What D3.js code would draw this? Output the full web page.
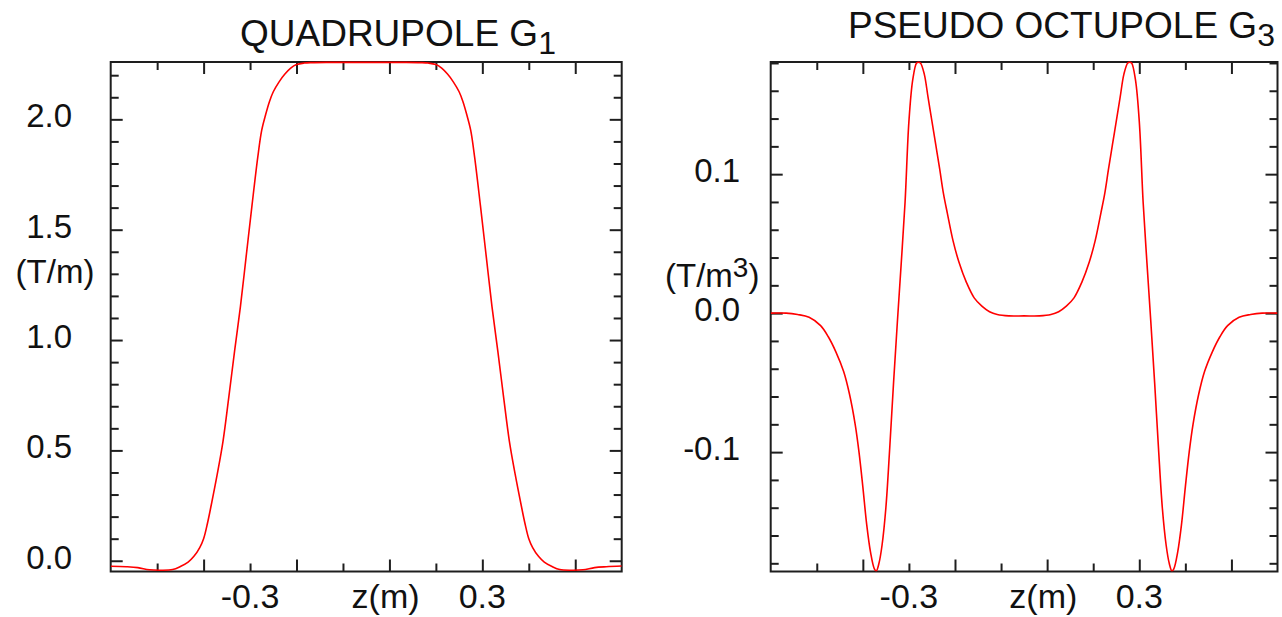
<!DOCTYPE html>
<html>
<head>
<meta charset="utf-8">
<script src="https://cdn.jsdelivr.net/npm/d3@7"></script>
<style>
  html, body { margin: 0; padding: 0; background: #fff; }
  svg { display: block; }
  text { font-family: "Liberation Sans", Arial, Helvetica, sans-serif; fill: #111; }
</style>
</head>
<body>
<svg id="chart" width="1282" height="617"></svg>
<script>
// ---------------- data ----------------
const zG1 = [-0.66, -0.62, -0.59, -0.56, -0.53, -0.50, -0.48, -0.46, -0.445, -0.43, -0.42, -0.41, -0.40, -0.385, -0.37, -0.355, -0.34, -0.325, -0.31, -0.295, -0.28, -0.27, -0.26, -0.25, -0.24, -0.225, -0.21, -0.195, -0.18, -0.16, -0.14, -0.10, -0.05, 0.0,
             0.05, 0.10, 0.14, 0.16, 0.18, 0.195, 0.21, 0.225, 0.24, 0.25, 0.26, 0.27, 0.28, 0.295, 0.31, 0.325, 0.34, 0.355, 0.37, 0.385, 0.40, 0.41, 0.42, 0.43, 0.445, 0.46, 0.48, 0.50, 0.53, 0.56, 0.59, 0.62, 0.66];
const g1 = [-0.025, -0.027, -0.031, -0.041, -0.043, -0.040, -0.026, -0.006, 0.020, 0.060, 0.100, 0.170, 0.255, 0.390, 0.540, 0.740, 0.950, 1.150, 1.380, 1.610, 1.830, 1.950, 2.020, 2.080, 2.125, 2.170, 2.205, 2.232, 2.248, 2.255, 2.257, 2.258, 2.258, 2.258,
            2.258, 2.258, 2.257, 2.255, 2.248, 2.232, 2.205, 2.170, 2.125, 2.080, 2.020, 1.950, 1.830, 1.610, 1.380, 1.150, 0.950, 0.740, 0.540, 0.390, 0.255, 0.170, 0.100, 0.060, 0.020, -0.006, -0.026, -0.040, -0.043, -0.041, -0.031, -0.027, -0.024];

const zG3 = [-0.66, -0.62, -0.59, -0.56, -0.53, -0.51, -0.49, -0.47, -0.455, -0.44, -0.43, -0.42, -0.41, -0.40, -0.39, -0.385, -0.378, -0.37, -0.36, -0.35, -0.34, -0.33, -0.32, -0.31, -0.30, -0.29, -0.28, -0.275, -0.27, -0.26, -0.25, -0.24, -0.23, -0.22, -0.21, -0.20, -0.185, -0.17, -0.15, -0.13, -0.11, -0.09, -0.07, -0.04, 0.0,
             0.04, 0.07, 0.09, 0.11, 0.13, 0.15, 0.17, 0.185, 0.20, 0.21, 0.22, 0.23, 0.24, 0.25, 0.26, 0.27, 0.275, 0.28, 0.29, 0.30, 0.31, 0.32, 0.33, 0.34, 0.35, 0.36, 0.37, 0.378, 0.385, 0.39, 0.40, 0.41, 0.42, 0.43, 0.44, 0.455, 0.47, 0.49, 0.51, 0.53, 0.56, 0.59, 0.62, 0.66];
const g3 = [0.000, 0.000, -0.001, -0.003, -0.009, -0.017, -0.028, -0.042, -0.058, -0.080, -0.100, -0.125, -0.152, -0.172, -0.184, -0.1855, -0.180, -0.167, -0.140, -0.097, -0.050, -0.006, 0.036, 0.080, 0.138, 0.168, 0.180, 0.1805, 0.180, 0.172, 0.155, 0.138, 0.121, 0.104, 0.086, 0.072, 0.052, 0.037, 0.022, 0.011, 0.005, 0.001, -0.001, -0.002, -0.002,
            -0.002, -0.001, 0.001, 0.005, 0.011, 0.022, 0.037, 0.052, 0.072, 0.086, 0.104, 0.121, 0.138, 0.155, 0.172, 0.180, 0.1805, 0.180, 0.168, 0.138, 0.080, 0.036, -0.006, -0.050, -0.097, -0.140, -0.167, -0.180, -0.1855, -0.184, -0.172, -0.152, -0.125, -0.100, -0.080, -0.058, -0.042, -0.028, -0.017, -0.009, -0.003, -0.001, 0.000, 0.000];

const xLabelValues = [-0.3, 0.3];
const xLabels = ["-0.3", "0.3"];
const xAxisTitle = "z(m)";
const yLabelValuesG1 = [0.0, 0.5, 1.0, 1.5, 2.0];
const yLabelsG1 = ["0.0", "0.5", "1.0", "1.5", "2.0"];
const yLabelValuesG3 = [-0.1, 0.0, 0.1];
const yLabelsG3 = ["-0.1", "0.0", "0.1"];
const titles = ["QUADRUPOLE G", "PSEUDO OCTUPOLE G"];
const titleSubs = ["1", "3"];

// ---------------- layout ----------------
const svg = d3.select("#chart");
const FRAME = "#1e1e1e";

const panels = [
  { x0: 110.7, x1: 621.7, y0: 62, y1: 571.5, yDomain: [-0.0487, 2.2598], z: zG1, v: g1,
    yMinorStep: 0.1, yMajorStep: 0.5, yLo: 0, yHi: 2.2,
    yLabelVals: yLabelValuesG1, yLabels: yLabelsG1, yLabelX: 72,
    titleX: 240, titleY: 46, title: titles[0], sub: titleSubs[0], id: "L" },
  { x0: 770.7, x1: 1277.5, y0: 62, y1: 571.5, yDomain: [-0.1859, 0.1807], z: zG3, v: g3,
    yMinorStep: 0.02, yMajorStep: 0.1, yLo: -0.18, yHi: 0.18,
    yLabelVals: yLabelValuesG3, yLabels: yLabelsG3, yLabelX: 740,
    titleX: 848, titleY: 38, title: titles[1], sub: titleSubs[1], id: "R" }
];

const xMinorTicks = d3.range(0, 5).map(i => +(-0.54 + 0.24 * i).toFixed(3));
const xMajorTicks = d3.range(0, 5).map(i => +(-0.42 + 0.24 * i).toFixed(3));

panels.forEach(p => {
  const x = d3.scaleLinear().domain([-0.66, 0.66]).range([p.x0, p.x1]);
  const y = d3.scaleLinear().domain(p.yDomain).range([p.y1, p.y0]);
  const g = svg.append("g");

  const nY = Math.round((p.yHi - p.yLo) / p.yMinorStep);
  const yAll = d3.range(0, nY + 1).map(i => +(p.yLo + i * p.yMinorStep).toFixed(4));
  const isMajor = v => Math.abs(v / p.yMajorStep - Math.round(v / p.yMajorStep)) < 1e-6;
  const yMajor = yAll.filter(isMajor);
  const yMinor = yAll.filter(v => !isMajor(v));

  const styleAxis = sel => {
    sel.select(".domain").remove();
    sel.selectAll(".tick line").attr("stroke", FRAME).attr("stroke-width", 2);
    sel.selectAll(".tick text").remove();
  };
  // bottom & top x ticks (inward)
  [[xMinorTicks, 8], [xMajorTicks, 12]].forEach(([vals, len]) => {
    g.append("g").attr("transform", `translate(0,${p.y1})`)
      .call(d3.axisBottom(x).tickValues(vals).tickSize(-len).tickFormat("")).call(styleAxis);
    g.append("g").attr("transform", `translate(0,${p.y0})`)
      .call(d3.axisTop(x).tickValues(vals).tickSize(-len).tickFormat("")).call(styleAxis);
  });
  // left & right y ticks (inward)
  [[yMinor, 8], [yMajor, 12]].forEach(([vals, len]) => {
    g.append("g").attr("transform", `translate(${p.x0},0)`)
      .call(d3.axisLeft(y).tickValues(vals).tickSize(-len).tickFormat("")).call(styleAxis);
    g.append("g").attr("transform", `translate(${p.x1},0)`)
      .call(d3.axisRight(y).tickValues(vals).tickSize(-len).tickFormat("")).call(styleAxis);
  });

  // frame
  g.append("rect").attr("x", p.x0).attr("y", p.y0)
    .attr("width", p.x1 - p.x0).attr("height", p.y1 - p.y0)
    .attr("fill", "none").attr("stroke", FRAME).attr("stroke-width", 2);

  // clip + curve
  svg.append("clipPath").attr("id", "clip" + p.id)
    .append("rect").attr("x", p.x0).attr("y", p.y0 - 1)
    .attr("width", p.x1 - p.x0).attr("height", p.y1 - p.y0 + 1);
  const pts = p.z.map((zz, i) => [zz, p.v[i]]);
  g.append("path").datum(pts)
    .attr("clip-path", `url(#clip${p.id})`)
    .attr("fill", "none").attr("stroke", "#ff0000").attr("stroke-width", 1.6)
    .attr("d", d3.line().x(d => x(d[0])).y(d => y(d[1])).curve(d3.curveCatmullRom.alpha(0.5)));

  // y labels
  g.selectAll(".ylab").data(p.yLabelVals).enter().append("text")
    .attr("x", p.yLabelX).attr("y", d => y(d) + 8)
    .attr("text-anchor", "end").attr("font-size", 33)
    .text((d, i) => p.yLabels[i]);

  // x labels
  g.selectAll(".xlab").data(xLabelValues).enter().append("text")
    .attr("x", d => x(d)).attr("y", 608)
    .attr("text-anchor", "middle").attr("font-size", 34)
    .text((d, i) => xLabels[i]);
  g.append("text").attr("x", x(0.05)).attr("y", 608)
    .attr("text-anchor", "middle").attr("font-size", 34).text(xAxisTitle);

  // title
  const t = g.append("text").attr("x", p.titleX).attr("y", p.titleY).attr("font-size", 37);
  t.append("tspan").text(p.title);
  t.append("tspan").attr("font-size", 32).attr("dy", 8).text(p.sub);
});

// unit labels
svg.append("text").attr("x", 55).attr("y", 283).attr("text-anchor", "middle")
  .attr("font-size", 33).text("(T/m)");
const u = svg.append("text").attr("x", 665).attr("y", 287).attr("font-size", 33);
u.append("tspan").text("(T/m");
u.append("tspan").attr("font-size", 28).attr("dy", -10).text("3");
u.append("tspan").attr("dy", 10).text(")");
</script>
</body>
</html>
